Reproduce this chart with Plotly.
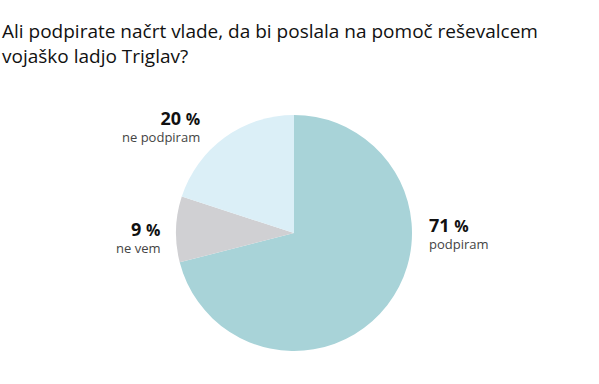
import plotly.graph_objects as go

categories = ["podpiram", "ne vem", "ne podpiram"]
values = [71, 9, 20]
colors = ["#a8d3d8", "#d0d0d3", "#dbeff7"]
title_text = "Ali podpirate načrt vlade, da bi poslala na pomoč reševalcem<br>vojaško ladjo Triglav?"

W, H = 599, 384
cx, cy, r = 294, 233, 118

fig = go.Figure(go.Pie(
    labels=categories, values=values, sort=False, direction="clockwise", rotation=0,
    marker=dict(colors=colors, line=dict(width=0)), textinfo="none", hoverinfo="label+percent",
    domain=dict(x=[(cx - r) / W, (cx + r) / W], y=[(H - cy - r) / H, (H - cy + r) / H]),
    showlegend=False,
))

# label positions (px): (x, y_center, anchor)
pos = [(427, 233, "left"), (162, 237, "right"), (202, 126, "right")]
font = "Open Sans, sans-serif"
anns = []
for (x, yc, anc), cat, v in zip(pos, categories, values):
    txt = (f"<span style='font-size:18px;color:#111'><b>{v}</b> <b><span style='font-size:16px'>%</span></b></span>"
           f"<br><span style='font-size:13px;color:#444'>{cat}</span>")
    anns.append(dict(x=x / W, y=1 - yc / H, xref="paper", yref="paper", xanchor=anc, yanchor="middle",
                     align=anc, text=txt, showarrow=False,
                     font=dict(family=font, size=13.2, color="#444")))

anns.append(dict(x=0, y=1 - 16 / H, xref="paper", yref="paper", xanchor="left", yanchor="top",
                 align="left", text=title_text, showarrow=False,
                 font=dict(family=font, size=19, color="#111")))

fig.update_layout(
    width=W, height=H, margin=dict(l=0, r=0, t=0, b=0),
    paper_bgcolor="white", plot_bgcolor="white",
    annotations=anns,
)
fig.write_html("out.html", config={"displayModeBar": False},
               post_script="document.body.style.margin='0';")
